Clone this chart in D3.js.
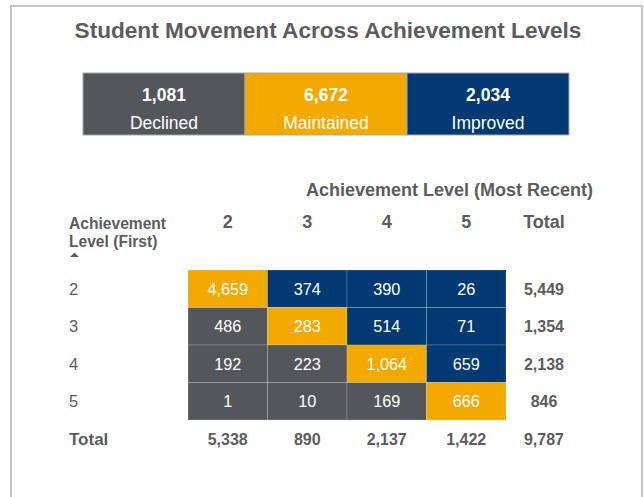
<!DOCTYPE html>
<html>
<head>
<meta charset="utf-8">
<script src="https://cdn.jsdelivr.net/npm/d3@7"></script>
<style>
  body { margin: 0; background: #fff; }
  svg text { font-family: "Liberation Sans", Arial, sans-serif; }
  svg text.narrow { font-family: "Liberation Sans Narrow", "Arial Narrow", sans-serif; }
</style>
</head>
<body>
<svg id="chart" width="644" height="497"></svg>
<script>
// values
const levels = ["2", "3", "4", "5"];
const counts = [
    [4659, 374, 390, 26],
    [486, 283, 514, 71],
    [192, 223, 1064, 659],
    [1, 10, 169, 666]
];
const rowTotals = [5449, 1354, 2138, 846];
const colTotals = [5338, 890, 2137, 1422];
const grandTotal = 9787;
const summaryLabels = ["Declined", "Maintained", "Improved"];
const summaryValues = [1081, 6672, 2034];

const colors = {
    declined: "#54575a",
    maintained: "#f2a900",
    improved: "#003a70",
    text: "#5c5c5c",
    frame: "#c4c4c4"
};
const fmt = d3.format(",");

const svg = d3.select("#chart");

// outer panel frame (top, left, right only)
svg.append("path")
    .attr("d", "M11,497 V6 H642 V497")
    .attr("fill", "none")
    .attr("stroke", colors.frame)
    .attr("stroke-width", 2);

svg.append("text")
    .attr("x", 328)
    .attr("y", 38)
    .attr("text-anchor", "middle")
    .attr("font-size", 22.6)
    .attr("font-weight", "bold")
    .attr("fill", colors.text)
    .text("Student Movement Across Achievement Levels");

// summary boxes
const summaryX = d3.scaleBand()
    .domain(summaryLabels)
    .range([83, 569]);
const summaryColor = d3.scaleOrdinal()
    .domain(summaryLabels)
    .range([colors.declined, colors.maintained, colors.improved]);

const box = svg.append("g").selectAll("g")
    .data(summaryLabels)
    .enter()
    .append("g")
    .attr("transform", function (d) { return "translate(" + summaryX(d) + ",73)"; });
box.append("rect")
    .attr("width", summaryX.bandwidth())
    .attr("height", 62)
    .attr("fill", function (d) { return summaryColor(d); })
    .attr("stroke", "#a9a9a9")
    .attr("stroke-width", 1);
box.append("text")
    .attr("x", summaryX.bandwidth() / 2)
    .attr("y", 28)
    .attr("text-anchor", "middle")
    .attr("font-size", 17.5)
    .attr("font-weight", "bold")
    .attr("fill", "#fff")
    .text(function (d, i) { return fmt(summaryValues[i]); });
box.append("text")
    .attr("x", summaryX.bandwidth() / 2)
    .attr("y", 56)
    .attr("text-anchor", "middle")
    .attr("font-size", 17.5)
    .attr("fill", "#fff")
    .text(function (d) { return d; });

// matrix
const x = d3.scaleBand()
    .domain(levels)
    .range([188, 506]);
const y = d3.scaleBand()
    .domain(levels)
    .range([270, 420]);
const totalX = 544;
const totalY = 439;

function cellColor(r, c) {
    if (c < r) return colors.declined;
    if (c === r) return colors.maintained;
    return colors.improved;
}

svg.append("text")
    .attr("x", 593)
    .attr("y", 196)
    .attr("text-anchor", "end")
    .attr("font-size", 18)
    .attr("font-weight", "bold")
    .attr("fill", colors.text)
    .text("Achievement Level (Most Recent)");

const rowHead = svg.append("text")
    .attr("x", 69)
    .attr("y", 229)
    .attr("font-size", 15.6)
    .attr("font-weight", "bold")
    .attr("fill", colors.text);
rowHead.append("tspan").attr("x", 69).text("Achievement");
rowHead.append("tspan").attr("x", 69).attr("dy", 18).text("Level (First)");
svg.append("path")
    .attr("d", "M70,257 L74.5,252.5 L79,257 Z")
    .attr("fill", colors.text);

// column headers
svg.append("g").selectAll("text")
    .data(levels.concat(["Total"]))
    .enter()
    .append("text")
    .attr("class", "narrow")
    .attr("x", function (d) { return d === "Total" ? totalX : x(d) + x.bandwidth() / 2; })
    .attr("y", 228)
    .attr("text-anchor", "middle")
    .attr("font-size", 18)
    .attr("font-weight", "bold")
    .attr("fill", colors.text)
    .text(function (d) { return d; });

// row labels
svg.append("g").selectAll("text")
    .data(levels)
    .enter()
    .append("text")
    .attr("x", 69)
    .attr("y", function (d) { return y(d) + y.bandwidth() / 2 + 6; })
    .attr("font-size", 16.5)
    .attr("fill", colors.text)
    .text(function (d) { return d; });

const cells = [];
counts.forEach(function (row, r) {
    row.forEach(function (v, c) {
        cells.push({ r: r, c: c, value: v });
    });
});

const cell = svg.append("g").selectAll("g")
    .data(cells)
    .enter()
    .append("g")
    .attr("transform", function (d) { return "translate(" + x(levels[d.c]) + "," + y(levels[d.r]) + ")"; });
cell.append("rect")
    .attr("width", x.bandwidth())
    .attr("height", y.bandwidth())
    .attr("fill", function (d) { return cellColor(d.r, d.c); })
    .attr("stroke", "rgba(255,255,255,0.18)")
    .attr("stroke-width", 1);
cell.append("text")
    .attr("x", x.bandwidth() / 2)
    .attr("y", y.bandwidth() / 2 + 6)
    .attr("text-anchor", "middle")
    .attr("font-size", 16.3)
    .attr("fill", "#fff")
    .text(function (d) { return fmt(d.value); });

// row totals
svg.append("g").selectAll("text")
    .data(rowTotals)
    .enter()
    .append("text")
    .attr("x", totalX)
    .attr("y", function (d, i) { return y(levels[i]) + y.bandwidth() / 2 + 6; })
    .attr("text-anchor", "middle")
    .attr("font-size", 16)
    .attr("font-weight", "bold")
    .attr("fill", colors.text)
    .text(function (d) { return fmt(d); });

// total row
svg.append("text")
    .attr("class", "narrow")
    .attr("x", 69)
    .attr("y", totalY + 6)
    .attr("font-size", 17)
    .attr("font-weight", "bold")
    .attr("fill", colors.text)
    .text("Total");
svg.append("g").selectAll("text")
    .data(colTotals.concat([grandTotal]))
    .enter()
    .append("text")
    .attr("x", function (d, i) { return i < levels.length ? x(levels[i]) + x.bandwidth() / 2 : totalX; })
    .attr("y", totalY + 6)
    .attr("text-anchor", "middle")
    .attr("font-size", 16)
    .attr("font-weight", "bold")
    .attr("fill", colors.text)
    .text(function (d) { return fmt(d); });
</script>
</body>
</html>
